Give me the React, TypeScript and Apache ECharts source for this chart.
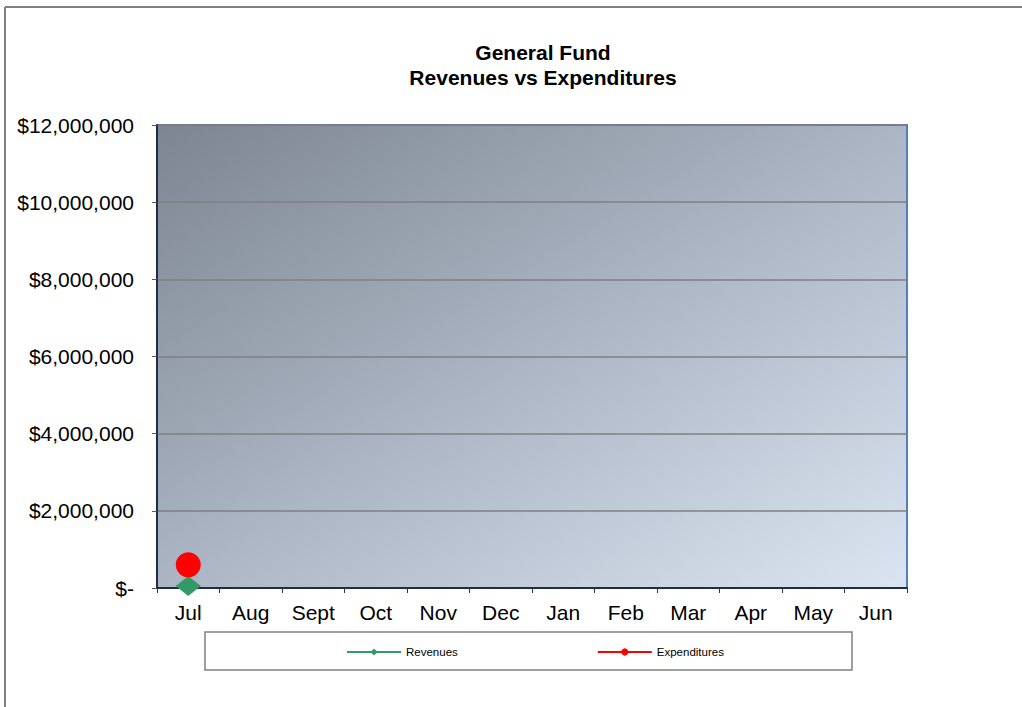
import React, { useEffect, useRef } from "react";
import * as echarts from "echarts";

const months = ["Jul", "Aug", "Sept", "Oct", "Nov", "Dec", "Jan", "Feb", "Mar", "Apr", "May", "Jun"];
const revenues: (number | null)[] = [50000, null, null, null, null, null, null, null, null, null, null, null];
const expenditures: (number | null)[] = [600000, null, null, null, null, null, null, null, null, null, null, null];
const titleText = "General Fund\nRevenues vs Expenditures";

const FONT = "'Liberation Sans', Arial, sans-serif";

export default function App() {
  const ref = useRef<HTMLDivElement>(null);
  useEffect(() => {
    document.body.style.margin = "0";
    const chart = echarts.init(ref.current!, null, { renderer: "svg" });
    chart.setOption({
      animation: false,
      backgroundColor: "#ffffff",
      title: {
        text: titleText,
        left: 538,
        top: 35,
        textAlign: "center",
        textStyle: { fontFamily: FONT, fontSize: 21, fontWeight: "bold", color: "#000", lineHeight: 25 },
      },
      graphic: [
        { type: "line", shape: { x1: 5, y1: 7, x2: 1022, y2: 7 }, style: { stroke: "#808080", lineWidth: 2 } },
        { type: "line", shape: { x1: 5, y1: 7, x2: 5, y2: 707 }, style: { stroke: "#808080", lineWidth: 2 } },
        {
          type: "rect",
          z: -1,
          shape: { x: 205, y: 632, width: 647, height: 38 },
          style: { fill: "#ffffff", stroke: "#808080", lineWidth: 1.5 },
        },
      ],
      legend: {
        left: 341,
        top: 641,
        itemWidth: 54,
        itemHeight: 9,
        itemGap: 139,
        textStyle: { fontFamily: FONT, fontSize: 11.5, color: "#000" },
        data: ["Revenues", "Expenditures"],
      },
      grid: {
        left: 157,
        top: 125,
        width: 750,
        height: 463,
        show: true,
        borderColor: "#4f81bd",
        borderWidth: 2,
        backgroundColor: new echarts.graphic.LinearGradient(0, 0, 1, 1, [
          { offset: 0, color: "#7d8591" },
          { offset: 0.5, color: "#abb5c3" },
          { offset: 1, color: "#dbe5f2" },
        ]),
      },
      xAxis: {
        type: "category",
        data: months,
        boundaryGap: true,
        axisLine: { show: true, lineStyle: { color: "#1f2d4a", width: 2 } },
        axisTick: { show: true, length: 5, interval: 0, lineStyle: { color: "#333" } },
        axisLabel: { interval: 0, margin: 14, fontFamily: FONT, fontSize: 21, color: "#000" },
        splitLine: { show: false },
      },
      yAxis: {
        type: "value",
        min: 0,
        max: 12000000,
        interval: 2000000,
        axisLine: { show: true, lineStyle: { color: "#1f2d4a", width: 2 } },
        axisTick: { show: true, length: 5, lineStyle: { color: "#555" } },
        axisLabel: {
          margin: 23,
          fontFamily: FONT,
          fontSize: 21,
          color: "#000",
          formatter: (v: number) => (v === 0 ? "$-" : "$" + v.toLocaleString("en-US")),
        },
        splitLine: { show: true, lineStyle: { color: "#7f7f7f", width: 1.5 } },
      },
      series: [
        {
          name: "Revenues",
          type: "line",
          data: revenues,
          symbol: "diamond",
          symbolSize: [25, 20],
          itemStyle: { color: "#339966" },
          lineStyle: { color: "#339966", width: 2.5 },
          connectNulls: false,
        },
        {
          name: "Expenditures",
          type: "line",
          data: expenditures,
          symbol: "circle",
          symbolSize: 25,
          itemStyle: { color: "#ff0000" },
          lineStyle: { color: "#ff0000", width: 2.5 },
          connectNulls: false,
        },
      ],
    });
    return () => chart.dispose();
  }, []);
  return <div ref={ref} style={{ width: 1022, height: 707 }} />;
}
